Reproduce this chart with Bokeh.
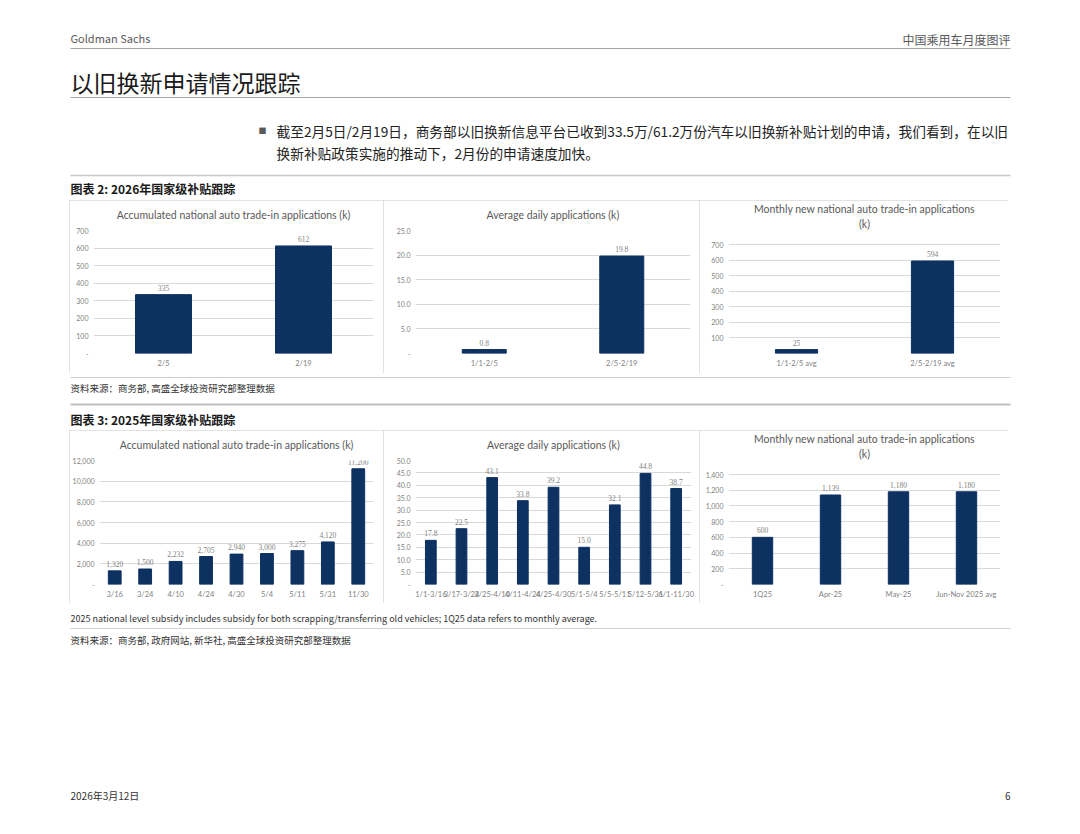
from bokeh.plotting import figure
from bokeh.models import (ColumnDataSource, FactorRange, Range1d, LabelSet, Label, Title,
                          FixedTicker, Spacer)
from bokeh.layouts import column, row
from bokeh.embed import file_html
from bokeh.resources import INLINE

# ---------------- data ----------------
c1_cats = ["2/5", "2/19"]
c1_vals = [335, 612]
c1_labs = ["335", "612"]
c1_ticks = [0, 100, 200, 300, 400, 500, 600, 700]
c1_tlabs = ["-", "100", "200", "300", "400", "500", "600", "700"]

c2_cats = ["1/1-2/5", "2/5-2/19"]
c2_vals = [0.8, 19.8]
c2_labs = ["0.8", "19.8"]
c2_ticks = [0, 5, 10, 15, 20, 25]
c2_tlabs = ["-", "5.0", "10.0", "15.0", "20.0", "25.0"]

c3_cats = ["1/1-2/5 avg", "2/5-2/19 avg"]
c3_vals = [25, 594]
c3_labs = ["25", "594"]
c3_ticks = [0, 100, 200, 300, 400, 500, 600, 700]
c3_tlabs = ["", "100", "200", "300", "400", "500", "600", "700"]

c4_cats = ["3/16", "3/24", "4/10", "4/24", "4/30", "5/4", "5/11", "5/31", "11/30"]
c4_vals = [1320, 1500, 2232, 2705, 2940, 3000, 3275, 4120, 11200]
c4_labs = ["1,320", "1,500", "2,232", "2,705", "2,940", "3,000", "3,275", "4,120", "11,200"]
c4_ticks = [0, 2000, 4000, 6000, 8000, 10000, 12000]
c4_tlabs = ["-", "2,000", "4,000", "6,000", "8,000", "10,000", "12,000"]

c5_cats = ["1/1-3/16", "3/17-3/24", "3/25-4/10", "4/11-4/24", "4/25-4/30",
           "5/1-5/4", "5/5-5/11", "5/12-5/31", "6/1-11/30"]
c5_vals = [17.8, 22.5, 43.1, 33.8, 39.2, 15.0, 32.1, 44.8, 38.7]
c5_labs = ["17.8", "22.5", "43.1", "33.8", "39.2", "15.0", "32.1", "44.8", "38.7"]
c5_ticks = [0, 5, 10, 15, 20, 25, 30, 35, 40, 45, 50]
c5_tlabs = ["-", "5.0", "10.0", "15.0", "20.0", "25.0", "30.0", "35.0", "40.0", "45.0", "50.0"]

c6_cats = ["1Q25", "Apr-25", "May-25", "Jun-Nov 2025 avg"]
c6_vals = [600, 1139, 1180, 1180]
c6_labs = ["600", "1,139", "1,180", "1,180"]
c6_ticks = [0, 200, 400, 600, 800, 1000, 1200, 1400]
c6_tlabs = ["-", "200", "400", "600", "800", "1,000", "1,200", "1,400"]

# ---------------- style ----------------
BAR = "#0D3161"
GREY = "#7f7f7f"
TITLE_GREY = "#595959"
GRID = "#d9d9d9"
CJK = "Noto Sans CJK SC"
LAT = "Lato"
FRAME_TOP = 30  # common top border of the plot frames in a row


def bar_chart(cats, vals, labs, ticks, tlabs, title_lines, width, height,
              left, right, bottom, bar_w, tick_top_px):
    """tick_top_px: distance from the figure top where the highest tick sits."""
    frame_bottom = height - bottom
    y_end = ticks[-1] * (frame_bottom - FRAME_TOP) / (frame_bottom - tick_top_px)
    src = ColumnDataSource(dict(cat=cats, val=vals, lab=labs))
    p = figure(x_range=FactorRange(*cats), y_range=Range1d(ticks[0], y_end),
               width=width, height=height, output_backend="svg", toolbar_location=None,
               title=None, min_border_left=left, min_border_right=right,
               min_border_top=FRAME_TOP, min_border_bottom=bottom,
               outline_line_color=None, background_fill_color="white",
               border_fill_color="white")
    p.vbar(x="cat", top="val", width=bar_w, source=src, fill_color=BAR, line_color=BAR)
    p.add_layout(LabelSet(x="cat", y="val", text="lab", source=src, text_align="center",
                          text_baseline="bottom", y_offset=4, text_font_size="7.5px",
                          text_color=GREY, text_font=LAT))
    p.yaxis.ticker = FixedTicker(ticks=ticks)
    p.yaxis.major_label_overrides = {t: l for t, l in zip(ticks, tlabs)}
    for ax in (p.xaxis, p.yaxis):
        ax.axis_line_color = None
        ax.major_tick_line_color = None
        ax.minor_tick_line_color = None
        ax.major_tick_out = 0
        ax.major_tick_in = 0
        ax.minor_tick_out = 0
        ax.major_label_text_color = GREY
        ax.major_label_text_font = LAT
    p.yaxis.major_label_text_font_size = "7px"
    p.yaxis.major_label_standoff = 5
    p.xaxis.major_label_text_font_size = "7.5px"
    p.xaxis.major_label_standoff = 5
    p.xgrid.grid_line_color = None
    p.ygrid.grid_line_color = GRID
    p.ygrid.grid_line_width = 1
    single = len(title_lines) == 1
    for i, line in enumerate(reversed(title_lines)):
        if single:
            so, va = 15, "top"
        else:
            so, va = (1.5 if i == 0 else 0), "bottom"
        p.add_layout(Title(text=line, align="center", text_font=LAT,
                           text_font_size="10.5px", text_font_style="normal",
                           text_color=TITLE_GREY, standoff=so, vertical_align=va), "above")
    p.styles = {"outline": "1px solid #d9d9d9", "outline-offset": "-1px"}
    return p


def page_fig(h, y0, y1):
    p = figure(width=1064, height=h, x_range=Range1d(0, 1064), y_range=Range1d(y1, y0),
               output_backend="svg", toolbar_location=None, x_axis_type=None,
               y_axis_type=None, min_border=0, outline_line_color=None)
    p.grid.visible = False
    return p


def txt(p, x, y, s, size, color="#222222", font=CJK, align="left", style="normal"):
    p.add_layout(Label(x=x, y=y, text=s, text_font=font, text_font_size=size,
                       text_color=color, text_align=align, text_baseline="middle",
                       text_font_style=style))


def rule(p, y, color, w=1):
    p.segment(x0=[70], y0=[y], x1=[1010], y1=[y], line_color=color, line_width=w)


# ---------------- page top ----------------
top = page_fig(200, 0, 200)
txt(top, 70, 37, "Goldman Sachs", "11px", color="#595959")
txt(top, 1010, 39, "中国乘用车月度图评", "12px", color="#595959", align="right")
rule(top, 48, "#a6a6a6", 1)
txt(top, 70, 81, "以旧换新申请情况跟踪", "23px", color="#1a1a1a")
rule(top, 97, "#a6a6a6", 1)
txt(top, 258, 130, "■", "8px", color="#595959")
txt(top, 276, 130, "截至2月5日/2月19日，商务部以旧换新信息平台已收到33.5万/61.2万份汽车以旧换新补贴计划的申请，我们看到，在以旧",
    "13.7px")
txt(top, 276, 152, "换新补贴政策实施的推动下，2月份的申请速度加快。", "13.7px")
rule(top, 175, "#c8c8c8", 1.5)
txt(top, 70, 188, "图表 2: 2026年国家级补贴跟踪", "12px", color="#1a1a1a", style="bold")

# ---------------- charts row 1 ----------------
f1 = bar_chart(c1_cats, c1_vals, c1_labs, c1_ticks, c1_tlabs,
               ["Accumulated national auto trade-in applications (k)"],
               314, 173, 24, 10, 20, 0.4, 30)
f2 = bar_chart(c2_cats, c2_vals, c2_labs, c2_ticks, c2_tlabs,
               ["Average daily applications (k)"],
               316, 173, 32, 9, 20, 0.32, 30)
f3 = bar_chart(c3_cats, c3_vals, c3_labs, c3_ticks, c3_tlabs,
               ["Monthly new national auto trade-in applications", "(k)"],
               309, 173, 29, 8, 20, 0.31, 44)
row1 = row(Spacer(width=69, height=173), f1, f2, f3)

# ---------------- middle ----------------
mid = page_fig(57, 373, 430)
rule(mid, 377, "#d0d0d0", 1)
txt(mid, 70, 387, "资料来源：商务部, 高盛全球投资研究部整理数据", "9.5px", color="#333333")
rule(mid, 404, "#bfbfbf", 2)
txt(mid, 70, 419, "图表 3: 2025年国家级补贴跟踪", "12px", color="#1a1a1a", style="bold")

# ---------------- charts row 2 ----------------
f4 = bar_chart(c4_cats, c4_vals, c4_labs, c4_ticks, c4_tlabs,
               ["Accumulated national auto trade-in applications (k)"],
               314, 173, 26, 10, 19, 0.42, 30)
f5 = bar_chart(c5_cats, c5_vals, c5_labs, c5_ticks, c5_tlabs,
               ["Average daily applications (k)"],
               316, 173, 32, 8, 19, 0.35, 30)
f6 = bar_chart(c6_cats, c6_vals, c6_labs, c6_ticks, c6_tlabs,
               ["Monthly new national auto trade-in applications", "(k)"],
               309, 173, 29, 8, 19, 0.3, 44)
row2 = row(Spacer(width=69, height=173), f4, f5, f6)

# ---------------- bottom ----------------
bot = page_fig(223, 603, 826)
txt(bot, 70, 618, "2025 national level subsidy includes subsidy for both scrapping/transferring old vehicles; 1Q25 data refers to monthly average.",
    "9px", color="#333333")
rule(bot, 628, "#d0d0d0", 1)
txt(bot, 70, 639, "资料来源：商务部, 政府网站, 新华社, 高盛全球投资研究部整理数据", "9.5px", color="#333333")
txt(bot, 70, 795, "2026年3月12日", "10px", color="#333333")
txt(bot, 1010, 795, "6", "10px", color="#333333", align="right")

page = column(top, row1, mid, row2, bot)
open("out.html", "w").write(file_html(page, INLINE))
